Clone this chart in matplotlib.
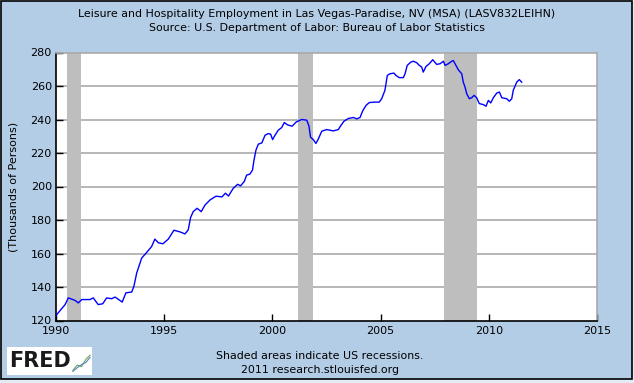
import numpy as np
import matplotlib.pyplot as plt
from matplotlib.patches import Rectangle

# Leisure and hospitality employment, Las Vegas-Paradise (thousands)
years = [1990.00, 1990.42, 1990.57, 1990.88, 1991.03, 1991.19, 1991.57, 1991.72, 1991.95,
         1992.16, 1992.34, 1992.57, 1992.73, 1993.06, 1993.23, 1993.50, 1993.60, 1993.73,
         1993.96, 1994.19, 1994.42, 1994.57, 1994.73, 1994.94, 1995.19, 1995.45, 1995.73,
         1995.96, 1996.11, 1996.22, 1996.34, 1996.52, 1996.71, 1996.89, 1997.12, 1997.39,
         1997.67, 1997.83, 1997.97, 1998.19, 1998.39, 1998.53, 1998.70, 1998.81, 1998.96,
         1999.08, 1999.15, 1999.24, 1999.35, 1999.51, 1999.66, 1999.81, 1999.92, 2000.01,
         2000.12, 2000.27, 2000.43, 2000.55, 2000.70, 2000.91, 2001.10, 2001.35, 2001.59,
         2001.69, 2001.76, 2001.89, 2002.01, 2002.12, 2002.28, 2002.51, 2002.81, 2003.05,
         2003.12, 2003.31, 2003.51, 2003.74, 2003.90, 2004.05, 2004.17, 2004.33, 2004.48,
         2004.74, 2004.94, 2005.05, 2005.20, 2005.25, 2005.31, 2005.43, 2005.62, 2005.71,
         2005.86, 2006.05, 2006.13, 2006.23, 2006.39, 2006.51, 2006.67, 2006.79, 2006.90,
         2006.97, 2007.10, 2007.25, 2007.41, 2007.59, 2007.75, 2007.90, 2007.98, 2008.13,
         2008.29, 2008.36, 2008.48, 2008.59, 2008.75, 2008.82, 2008.90, 2008.98, 2009.10,
         2009.21, 2009.32, 2009.44, 2009.56, 2009.75, 2009.87, 2009.98, 2010.09, 2010.21,
         2010.37, 2010.49, 2010.60, 2010.83, 2010.95, 2011.06, 2011.13, 2011.29, 2011.41,
         2011.52]
employment = [123.0, 129.5, 133.5, 132.0, 130.5, 132.5, 132.5, 133.5, 129.5,
              130.0, 133.5, 133.0, 134.0, 131.0, 136.5, 137.0, 140.4, 148.4,
              157.3, 160.6, 164.2, 168.6, 166.4, 165.8, 168.6, 173.9, 172.9,
              171.7, 174.1, 181.5, 185.0, 187.0, 185.0, 189.0, 192.0, 194.2,
              193.8, 196.0, 194.3, 198.9, 201.3, 200.4, 203.0, 206.8, 207.4,
              209.8, 215.8, 221.7, 225.3, 226.0, 230.6, 231.6, 231.2, 228.0,
              230.6, 233.6, 235.2, 238.2, 236.8, 236.0, 238.5, 240.0, 239.6,
              236.0, 229.5, 228.0, 225.7, 228.3, 233.0, 234.0, 233.2, 234.0,
              235.6, 239.0, 240.6, 241.2, 240.4, 241.2, 245.1, 248.5, 250.1,
              250.4, 250.4, 252.4, 257.4, 261.4, 266.3, 267.3, 267.7, 266.3,
              265.0, 265.0, 267.3, 272.3, 274.2, 274.8, 273.9, 272.3, 271.3,
              268.3, 271.7, 273.3, 275.7, 272.9, 273.3, 274.8, 272.3, 273.3,
              274.8, 275.2, 272.3, 269.7, 267.3, 262.3, 259.4, 255.4, 252.4,
              253.0, 254.4, 253.0, 249.5, 248.9, 247.9, 251.4, 249.9, 253.0,
              255.8, 256.4, 253.0, 252.4, 250.9, 252.4, 257.4, 262.3, 263.8,
              262.3]

# US recessions (start, end)
recession_start = [1990.50, 2001.17, 2007.92]
recession_end = [1991.17, 2001.87, 2009.45]

x_ticks = [1990, 1995, 2000, 2005, 2010, 2015]
y_ticks = [120, 140, 160, 180, 200, 220, 240, 260, 280]

bg = '#b4cde6'
W, H = 634, 383
fig = plt.figure(figsize=(W / 100, H / 100), dpi=100)
fig.patch.set_facecolor('#e3ecf6')

# blue panel with black frame, drawn on a full-figure background axes
back = fig.add_axes([0, 0, 1, 1], zorder=-10)
back.set_xlim(0, W)
back.set_ylim(H, 0)
back.axis('off')
back.add_patch(Rectangle((1, 1), 631, 378, facecolor=bg, edgecolor='black', linewidth=1.2))
# FRED logo box
back.add_patch(Rectangle((7, 347), 85, 28, facecolor='white', edgecolor='none'))
back.text(9, 361, 'FRED', ha='left', va='center', fontsize=15,
          fontweight='heavy', color='#1a1a1a')

ax = fig.add_axes([56 / W, 1 - 320.5 / H, 541 / W, 268 / H])
ax.set_facecolor('white')

for s, e in zip(recession_start, recession_end):
    ax.axvspan(s, e, color='#bebebe', linewidth=0, zorder=1)

for v in y_ticks[1:-1]:
    ax.axhline(v, color='#aaaaaa', linewidth=1.2, zorder=0.5)

ax.plot(years, employment, color='#0000ff', linewidth=1.0, zorder=3)

ax.set_xlim(1990, 2015)
ax.set_ylim(120, 280)
ax.set_xticks(x_ticks)
ax.set_yticks(y_ticks)
ax.tick_params(direction='in', length=5, width=1, labelsize=8, pad=3, colors='black')
ax.tick_params(axis='x', pad=4)
for side in ['left', 'bottom']:
    ax.spines[side].set_color('black')
    ax.spines[side].set_linewidth(1.2)
for side in ['top', 'right']:
    ax.spines[side].set_color('#aaaaaa')
    ax.spines[side].set_linewidth(1.2)
ax.set_ylabel('(Thousands of Persons)', fontsize=8, labelpad=9)

fig.text(317 / W, 1 - 14 / H,
         'Leisure and Hospitality Employment in Las Vegas-Paradise, NV (MSA) (LASV832LEIHN)',
         ha='center', va='center', fontsize=7.9)
fig.text(317 / W, 1 - 28 / H, 'Source: U.S. Department of Labor: Bureau of Labor Statistics',
         ha='center', va='center', fontsize=7.9)
fig.text(320 / W, 1 - 356 / H, 'Shaded areas indicate US recessions.',
         ha='center', va='center', fontsize=7.9)
fig.text(320 / W, 1 - 370 / H, '2011 research.stlouisfed.org',
         ha='center', va='center', fontsize=7.9)

# small chart icon next to the logo text
logo = fig.add_axes([72 / W, 1 - 373 / H, 19 / W, 20 / H])
logo.set_facecolor('#eeeeee')
logo.plot([0, 1, 2, 3, 4], [0.5, 1.5, 1.2, 2.6, 3.4], color='#6aa84f', linewidth=0.8)
logo.plot([0, 1, 2, 3, 4], [0.3, 1.0, 1.6, 2.0, 3.0], color='#5b7fc0', linewidth=0.8)
logo.set_xlim(-0.2, 4.2)
logo.set_ylim(0, 3.8)
logo.axis('off')

fig.savefig('out.png', dpi=100, facecolor=fig.get_facecolor())
